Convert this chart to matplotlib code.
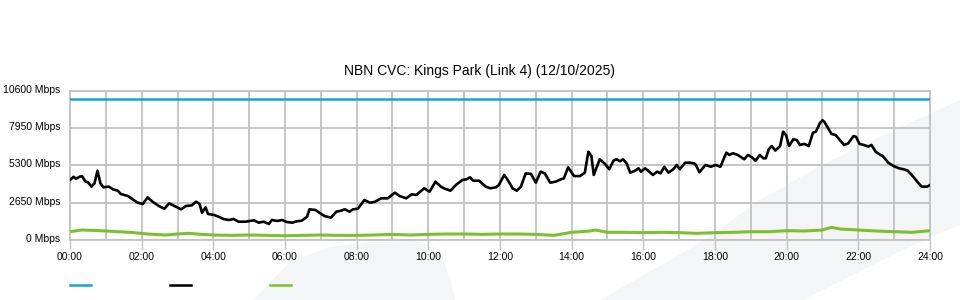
import matplotlib
matplotlib.use('Agg')
import matplotlib.pyplot as plt
import matplotlib.transforms as mtransforms
from matplotlib.lines import Line2D
from matplotlib.patches import Polygon

plt.rcParams['font.family'] = ['Liberation Sans', 'DejaVu Sans']

title = 'NBN CVC: Kings Park (Link 4) (12/10/2025)'

# capacity line (Mbps)
cap_minutes = [0, 1440]
cap_values = [10000, 10000]

# traffic (minutes after midnight, Mbps)
black_minutes = [0, 6, 10, 16, 20, 26, 30, 36, 41, 46, 51, 56, 65, 72, 80, 85, 97, 105, 113, 122,
                 130, 138, 149, 158, 166, 175, 186, 194, 204, 211, 217, 221, 227, 231, 241, 249, 257, 266,
                 274, 282, 294, 308, 316, 324, 333, 338, 347, 355, 363, 372, 380, 388, 397, 401, 411, 415,
                 426, 437, 446, 454, 460, 468, 474, 482, 493, 502, 510, 521, 532, 544, 552, 563, 572, 580,
                 593, 602, 612, 621, 626, 637, 646, 657, 664, 670, 675, 685, 696, 704, 713, 718, 727, 733,
                 741, 748, 755, 763, 772, 780, 788, 795, 804, 813, 822, 827, 834, 844, 854, 862, 868, 873,
                 877, 887, 896, 903, 910, 915, 921, 926, 932, 938, 946, 952, 956, 963, 968, 976, 983, 989,
                 995, 1002, 1010, 1016, 1021, 1030, 1038, 1045, 1048, 1054, 1064, 1073, 1081, 1089, 1099,
                 1104, 1110, 1118, 1129, 1135, 1142, 1148, 1155, 1161, 1165, 1170, 1175, 1181, 1189, 1194,
                 1199, 1204, 1211, 1217, 1222, 1230, 1237, 1244, 1249, 1256, 1260, 1263, 1275, 1282, 1296,
                 1303, 1312, 1316, 1322, 1329, 1337, 1342, 1349, 1357, 1361, 1370, 1379, 1388, 1396, 1403,
                 1412, 1420, 1426, 1435, 1440]
black_values = [4260, 4490, 4350, 4490, 4540, 4140, 4100, 3790, 4020, 4920, 4020, 3740, 3790, 3600, 3500,
                3270, 3120, 2890, 2650, 2560, 3030, 2720, 2410, 2220, 2600, 2410, 2180, 2410, 2460, 2720,
                2560, 1940, 2320, 1850, 1780, 1650, 1490, 1420, 1490, 1300, 1300, 1400, 1230, 1300, 1140,
                1420, 1350, 1420, 1280, 1230, 1330, 1370, 1650, 2180, 2130, 2010, 1700, 1590, 2010, 2080,
                2180, 2010, 2180, 2220, 2840, 2650, 2700, 2960, 2960, 3360, 3120, 2960, 3240, 3200, 3670,
                3430, 4140, 3790, 3670, 3500, 3900, 4260, 4310, 4450, 4210, 4210, 3790, 3670, 3740, 3900,
                4620, 4260, 3670, 3500, 3790, 4730, 4690, 4070, 4850, 4730, 4070, 4140, 4310, 4380, 5160,
                4540, 4540, 4780, 6270, 5960, 4620, 5730, 5400, 5020, 5630, 5730, 5590, 5730, 5440, 4780,
                4920, 5090, 4850, 5090, 4920, 4620, 4850, 4730, 5200, 4780, 5020, 5330, 5020, 5490, 5490,
                5440, 5330, 4810, 5330, 5200, 5330, 5200, 6200, 6040, 6160, 6040, 5730, 6040, 5870, 5630,
                6040, 5800, 5800, 6440, 6670, 6350, 6670, 7690, 7450, 6670, 7150, 7100, 6750, 6820, 6670,
                7620, 7690, 8330, 8500, 8400, 7530, 7450, 6750, 6860, 7380, 7330, 6820, 6750, 6630, 6750,
                6270, 6040, 5960, 5490, 5250, 5090, 5020, 4920, 4490, 4070, 3790, 3790, 3900]

green_minutes = [0, 20, 40, 60, 80, 100, 130, 160, 180, 200, 220, 240, 270, 300, 330, 360, 390, 420, 450,
                 480, 510, 540, 570, 600, 630, 660, 690, 720, 750, 780, 810, 840, 870, 880, 900, 930, 960,
                 990, 1020, 1050, 1080, 1110, 1140, 1170, 1200, 1230, 1260, 1275, 1290, 1320, 1350, 1380,
                 1410, 1440]
green_values = [590, 710, 680, 640, 590, 545, 426, 355, 426, 475, 400, 355, 330, 355, 330, 300, 330, 355,
                330, 330, 355, 400, 355, 400, 426, 426, 400, 426, 426, 400, 330, 545, 640, 710, 545, 545,
                520, 545, 520, 475, 520, 545, 590, 590, 660, 640, 710, 900, 780, 710, 640, 590, 545, 660]

y_ticks = [0, 2650, 5300, 7950, 10600]
x_ticks = list(range(0, 25, 2))
x_labels = ['%02d:00' % h for h in x_ticks]

blue = '#1b9fe0'
green = '#7dbf2e'
grid_c = '#c2c2c2'

fig = plt.figure(figsize=(9.6, 3.0), dpi=100)

# faint watermark swoosh behind the chart
wm = '#f4f5f7'
fig.add_artist(Polygon([(600/960, 0), (705/960, 1-240/300), (760/960, 1-200/300), (822/960, 1-165/300),
                        (890/960, 1-132/300), (960/960, 1-100/300), (960/960, 1-225/300),
                        (913/960, 1-245/300), (803/960, 0)],
                       closed=True, transform=fig.transFigure, color=wm, lw=0, zorder=0))
fig.add_artist(Polygon([(253/960, 0), (290/960, 1-262/300), (330/960, 1-247/300), (370/960, 1-242/300),
                        (415/960, 1-241/300), (440/960, 1-250/300), (452/960, 1-285/300), (455/960, 0)],
                       closed=True, transform=fig.transFigure, color=wm, lw=0, zorder=0))

ax = fig.add_axes([70/960, 0.2, 860/960, 1 - 0.2 - 90.7/300])
ax.patch.set_alpha(0)

ax.plot([m/60 for m in cap_minutes], cap_values, color=blue, lw=1.8, zorder=3)
ax.plot([m/60 for m in black_minutes], black_values, color='black', lw=1.9, zorder=4)
ax.plot([m/60 for m in green_minutes], green_values, color=green, lw=2.2, zorder=3)

ax.set_xlim(0, 24)
ax.set_ylim(0, 10600)
ax.set_xticks(x_ticks)
ax.set_xticklabels(x_labels)
ax.set_xticks(range(0, 25), minor=True)
ax.set_yticks(y_ticks)
ax.set_yticklabels(['%d Mbps' % v for v in y_ticks])

ax.grid(True, which='both', color=grid_c, lw=1.3, zorder=1)
ax.set_axisbelow(True)
for s in ax.spines.values():
    s.set_color(grid_c)
    s.set_linewidth(1.3)

ax.tick_params(axis='x', which='major', length=7, width=1, color=grid_c, labelsize=7.5, pad=2)
ax.tick_params(axis='x', which='minor', length=0)
ax.tick_params(axis='y', length=0, labelsize=7.5, pad=7)

# nudge y labels up a little, as in the original
up = mtransforms.ScaledTranslation(0, 2/100, fig.dpi_scale_trans)
for lab in ax.get_yticklabels():
    lab.set_transform(lab.get_transform() + up)

fig.text(0.5, 1 - 71/300, title, ha='center', va='center', fontsize=10)

# legend swatches (no labels)
for x0, c in [(70, blue), (170, 'black'), (270, green)]:
    fig.add_artist(Line2D([x0/960, (x0 + 21)/960], [1 - 285/300] * 2, color=c, lw=1.8,
                          transform=fig.transFigure))

fig.savefig('out.png', dpi=100)
